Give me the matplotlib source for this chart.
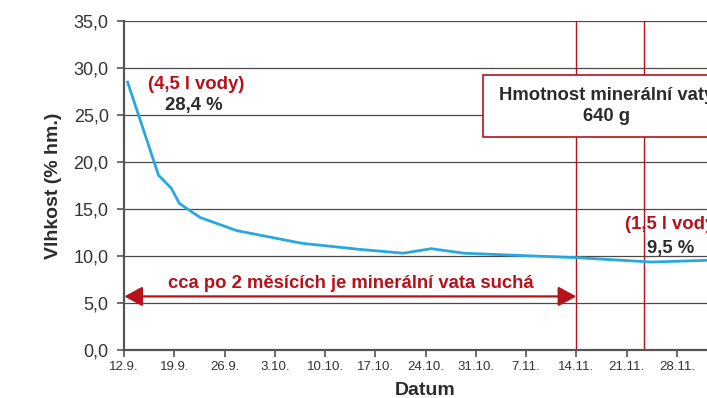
import matplotlib.pyplot as plt
from matplotlib.patches import Rectangle

# measurement days counted from 12.9. and moisture in % hm.
days = [0.5, 4.8, 6.6, 7.7, 10.6, 15.7, 24.8, 32.9, 38.9, 42.8, 47.3, 63.1, 73.5, 81.2, 84.0]
moisture = [28.5, 18.6, 17.2, 15.6, 14.1, 12.7, 11.35, 10.7, 10.3, 10.78, 10.3, 9.82, 9.36, 9.54, 9.6]

tick_days = [0, 7, 14, 21, 28, 35, 42, 49, 56, 63, 70, 77]
tick_labels = ["12.9.", "19.9.", "26.9.", "3.10.", "10.10.", "17.10.",
               "24.10.", "31.10.", "7.11.", "14.11.", "21.11.", "28.11."]
y_ticks = [0, 5, 10, 15, 20, 25, 30, 35]
y_labels = ["0,0", "5,0", "10,0", "15,0", "20,0", "25,0", "30,0", "35,0"]

marker_days = [63.0, 72.4]   # 14.11. and 23.11.
dry_day = 63.0

RED = "#b5121b"
BLUE = "#29a8e0"
DARK = "#2b2b2b"
FS = 13.3

plt.rcParams['font.family'] = ['Liberation Sans', 'DejaVu Sans']

fig = plt.figure(figsize=(7.07, 3.98), dpi=100)
ax = fig.add_axes([0.1754, 0.1206, 0.853, 0.8266])

ax.set_xlim(0, 84)
ax.set_ylim(0, 35)

for y in y_ticks[1:]:
    ax.axhline(y, color="#4a4a4a", lw=0.9, zorder=1)

for d in marker_days:
    ax.axvline(d, color=RED, lw=1.0, zorder=2)

ax.plot(days, moisture, color=BLUE, lw=2.0, zorder=3, solid_joinstyle="round")

# double headed arrow
ax.annotate("", xy=(0.05, 5.7), xytext=(dry_day, 5.7),
            arrowprops=dict(arrowstyle="<|-|>,head_length=1.1,head_width=0.6",
                            color=RED, lw=1.6, shrinkA=0, shrinkB=0), zorder=4)
ax.text(31.6, 7.1, "cca po 2 měsících je minerální vata suchá", color=RED,
        fontsize=FS, fontweight="bold", ha="center", va="center", zorder=4)

ax.text(3.4, 28.2, "(4,5 l vody)", color=RED, fontsize=FS, fontweight="bold",
        ha="left", va="center", zorder=4)
ax.text(5.7, 26.0, "28,4 %", color=DARK, fontsize=FS, fontweight="bold",
        ha="left", va="center", zorder=4)

ax.text(69.8, 13.3, "(1,5 l vody)", color=RED, fontsize=FS, fontweight="bold",
        ha="left", va="center", zorder=4, clip_on=False)
ax.text(72.8, 10.8, "9,5 %", color=DARK, fontsize=FS, fontweight="bold",
        ha="left", va="center", zorder=4)

box = Rectangle((50.0, 22.7), 34.5, 6.55, facecolor="white", edgecolor=RED,
                lw=1.2, zorder=5)
ax.add_patch(box)
ax.text(67.2, 27.1, "Hmotnost minerální vaty", color=DARK, fontsize=FS,
        fontweight="bold", ha="center", va="center", zorder=6)
ax.text(67.2, 24.8, "640 g", color=DARK, fontsize=FS,
        fontweight="bold", ha="center", va="center", zorder=6)

ax.set_xticks(tick_days)
ax.set_xticklabels(tick_labels, fontsize=9.5, color="#333333",
                   family=['Liberation Sans Narrow', 'Liberation Sans'])
ax.set_yticks(y_ticks)
ax.set_yticklabels(y_labels, fontsize=13, color="#333333")
ax.tick_params(axis="both", direction="out", length=5, width=1.2, color="#555555")
ax.tick_params(axis="y", pad=6)
ax.tick_params(axis="x", pad=3)

for side in ["top", "right"]:
    ax.spines[side].set_visible(False)
for side in ["left", "bottom"]:
    ax.spines[side].set_color("#555555")
    ax.spines[side].set_linewidth(1.6)

ax.set_ylabel("Vlhkost (% hm.)", fontsize=14, fontweight="bold", color=DARK, labelpad=8)
ax.set_xlabel("Datum", fontsize=14, fontweight="bold", color=DARK, labelpad=6.5)

fig.savefig("out.png", dpi=100)
